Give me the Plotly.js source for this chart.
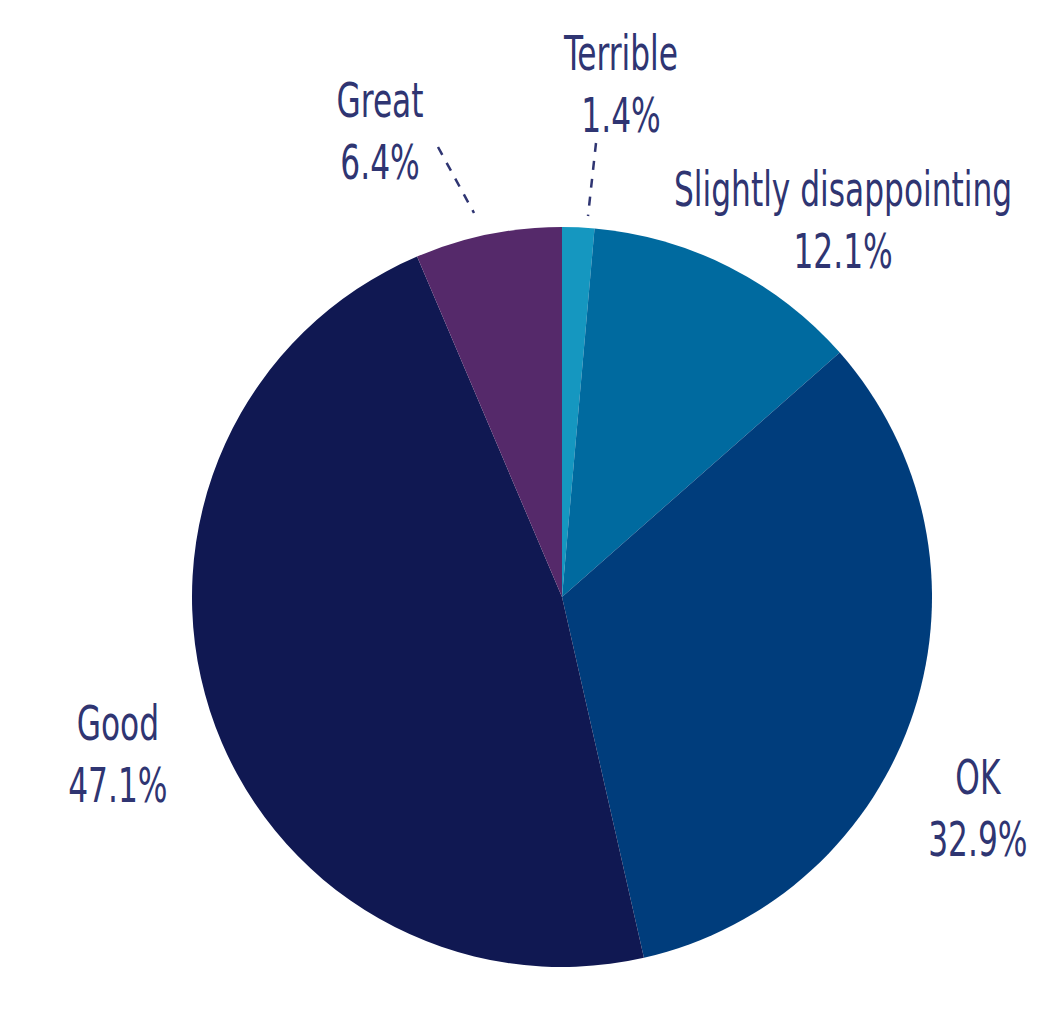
<!DOCTYPE html>
<html>
<head>
<meta charset="utf-8">
<script src="https://cdn.plot.ly/plotly-3.0.1.min.js"></script>
<style>html,body{margin:0;padding:0;background:#fff;}#chart{width:1056px;height:1020px;}</style>
</head>
<body>
<div id="chart"></div>
<script>
const categories = ["Terrible", "Slightly disappointing", "OK", "Good", "Great"];
const shares = [1.4, 12.1, 32.9, 47.1, 6.4];
const sliceColors = ["#1597c0", "#006a9f", "#003d7c", "#101852", "#55296a"];

const W = 1056, H = 1020;
// label anchor positions in pixels (centre of text block)
const labelPos = [[620, 84], [843, 220], [978, 808], [118, 754], [380, 131]];
const textColor = "#2f3572";
const fontFam = "'DejaVu Sans Condensed', 'Liberation Sans Narrow', sans-serif";

const annotations = categories.map((c, i) => ({
  xref: "paper", yref: "paper",
  x: labelPos[i][0] / W, y: 1 - labelPos[i][1] / H,
  xanchor: "center", yanchor: "middle",
  text: c + "<br>" + shares[i].toFixed(1) + "%",
  showarrow: false, align: "center",
  font: {family: fontFam, size: 44, color: textColor}
}));

const leaders = [[[596, 143], [588, 216]], [[438, 147], [474, 213]]];
const shapes = leaders.map(l => ({
  type: "line", xref: "paper", yref: "paper",
  x0: l[0][0] / W, y0: 1 - l[0][1] / H, x1: l[1][0] / W, y1: 1 - l[1][1] / H,
  line: {color: textColor, width: 2.5, dash: "dash"}
}));

const cx = 562, cy = 597, r = 370;
Plotly.newPlot("chart", [{
  type: "pie",
  labels: categories,
  values: shares,
  sort: false,
  direction: "clockwise",
  rotation: 0,
  textinfo: "none",
  hoverinfo: "label+percent",
  marker: {colors: sliceColors, line: {width: 0}},
  domain: {x: [(cx - r) / W, (cx + r) / W], y: [1 - (cy + r) / H, 1 - (cy - r) / H]}
}], {
  width: W, height: H,
  margin: {l: 0, r: 0, t: 0, b: 0},
  showlegend: false,
  paper_bgcolor: "#fff",
  annotations: annotations,
  shapes: shapes
}, {displayModeBar: false, staticPlot: true}).then(() => {
  // condense the label glyphs to resemble the narrow typeface of the original
  document.querySelectorAll("#chart .annotation-text").forEach(t => {
    t.style.transformBox = "fill-box";
    t.style.transformOrigin = "center";
    t.style.transform = "scale(0.79, 1.08)";
    t.style.fontWeight = "500";
  });
});
</script>
</body>
</html>
